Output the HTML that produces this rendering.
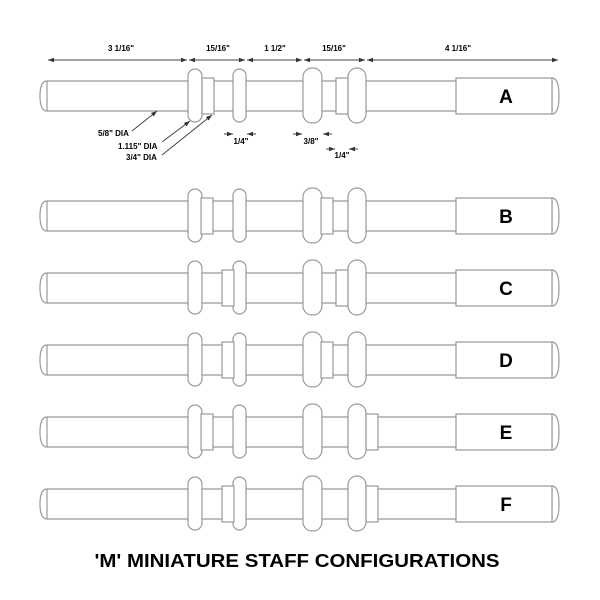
<!DOCTYPE html>
<html><head><meta charset="utf-8"><style>
html,body{margin:0;padding:0;background:#fff;}
svg{display:block;}
text{font-family:"Liberation Sans",Arial,sans-serif;font-weight:bold;fill:#000;}
</style></head><body>
<svg width="600" height="600" viewBox="0 0 600 600" xmlns="http://www.w3.org/2000/svg">
<defs>
<g id="staff" fill="#fff" stroke="#999" stroke-width="1.2">
  <path d="M47,-15 L456,-15 M47,15 L456,15" fill="none"/>
  <path d="M47,-15 Q40,-15 40,0 Q40,15 47,15 Z"/>
  <path d="M552,-18 Q559,-18 559,0 Q559,18 552,18 Z"/>
  <rect x="456" y="-18" width="96" height="36"/>
  <rect x="188" y="-27" width="14" height="53" rx="7"/>
  <rect x="233" y="-27" width="13" height="53" rx="6.5"/>
  <rect x="303" y="-28" width="19" height="55" rx="9"/>
  <rect x="348" y="-28" width="18" height="55" rx="9"/>
</g>
<rect id="s" x="0" y="-18" width="12" height="36" fill="#fff" stroke="#999" stroke-width="1.2"/>
<marker id="ar" viewBox="0 0 6 6" refX="6" refY="3" markerWidth="6" markerHeight="6" orient="auto-start-reverse"><path d="M0,0.8 L6,3 L0,5.2Z" fill="#333"/></marker>
</defs>

<!-- A -->
<g transform="translate(0,96)">
  <use href="#staff"/><use href="#s" x="202"/><use href="#s" x="336"/>
  <text x="506" y="7" font-size="19" text-anchor="middle">A</text>
</g>
<g transform="translate(0,216)">
  <use href="#staff"/><use href="#s" x="201"/><use href="#s" x="321"/>
  <text x="506" y="7" font-size="19" text-anchor="middle">B</text>
</g>
<g transform="translate(0,288)">
  <use href="#staff"/><use href="#s" x="222"/><use href="#s" x="336"/>
  <text x="506" y="7" font-size="19" text-anchor="middle">C</text>
</g>
<g transform="translate(0,360)">
  <use href="#staff"/><use href="#s" x="222"/><use href="#s" x="321"/>
  <text x="506" y="7" font-size="19" text-anchor="middle">D</text>
</g>
<g transform="translate(0,432)">
  <use href="#staff"/><use href="#s" x="201"/><use href="#s" x="366"/>
  <text x="506" y="7" font-size="19" text-anchor="middle">E</text>
</g>
<g transform="translate(0,504)">
  <use href="#staff"/><use href="#s" x="222"/><use href="#s" x="366"/>
  <text x="506" y="7" font-size="19" text-anchor="middle">F</text>
</g>

<!-- dimensions -->
<g stroke="#444" stroke-width="1" fill="none">
  <line x1="48" y1="60" x2="187" y2="60" marker-start="url(#ar)" marker-end="url(#ar)"/>
  <line x1="189" y1="60" x2="245" y2="60" marker-start="url(#ar)" marker-end="url(#ar)"/>
  <line x1="247" y1="60" x2="302" y2="60" marker-start="url(#ar)" marker-end="url(#ar)"/>
  <line x1="304" y1="60" x2="365" y2="60" marker-start="url(#ar)" marker-end="url(#ar)"/>
  <line x1="367" y1="60" x2="558" y2="60" marker-start="url(#ar)" marker-end="url(#ar)"/>
  <line x1="224" y1="134" x2="233" y2="134" marker-end="url(#ar)"/>
  <line x1="256" y1="134" x2="247" y2="134" marker-end="url(#ar)"/>
  <line x1="293" y1="134" x2="302" y2="134" marker-end="url(#ar)"/>
  <line x1="332" y1="134" x2="323" y2="134" marker-end="url(#ar)"/>
  <line x1="326" y1="149" x2="335" y2="149" marker-end="url(#ar)"/>
  <line x1="358" y1="149" x2="349" y2="149" marker-end="url(#ar)"/>
  <line x1="132" y1="131" x2="157" y2="111" marker-end="url(#ar)"/>
  <line x1="162" y1="142" x2="190" y2="121" marker-end="url(#ar)"/>
  <line x1="162" y1="155" x2="212" y2="115" marker-end="url(#ar)"/>
</g>
<g font-size="8">
  <text x="121" y="51" text-anchor="middle">3 1/16"</text>
  <text x="218" y="51" text-anchor="middle">15/16"</text>
  <text x="275" y="51" text-anchor="middle">1 1/2"</text>
  <text x="334" y="51" text-anchor="middle">15/16"</text>
  <text x="458" y="51" text-anchor="middle">4 1/16"</text>
  <text x="241" y="144" text-anchor="middle">1/4"</text>
  <text x="311" y="144" text-anchor="middle">3/8"</text>
  <text x="342" y="158" text-anchor="middle">1/4"</text>
  <text x="98" y="136">5/8" DIA</text>
  <text x="118" y="149">1.115" DIA</text>
  <text x="126" y="160">3/4" DIA</text>
</g>
<text x="297" y="567" font-size="18" text-anchor="middle" textLength="405" lengthAdjust="spacingAndGlyphs">'M' MINIATURE STAFF CONFIGURATIONS</text>
</svg>
</body></html>
